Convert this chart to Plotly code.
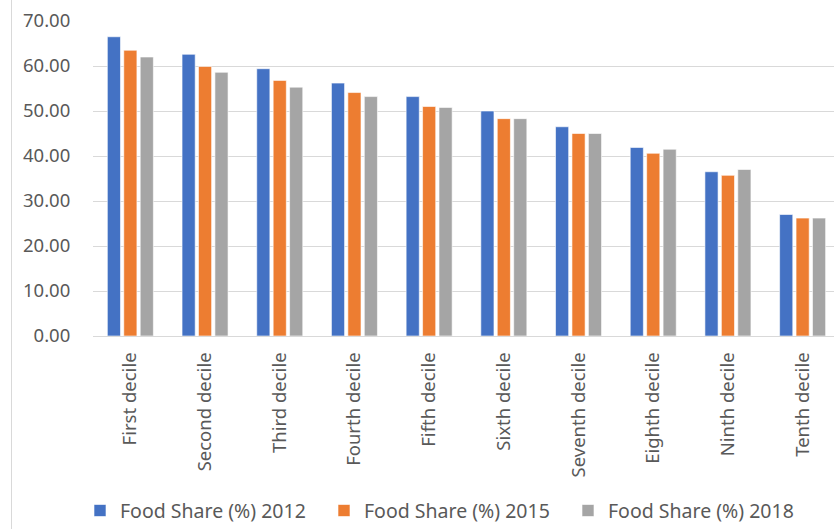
import plotly.graph_objects as go

categories = ["First decile", "Second decile", "Third decile", "Fourth decile", "Fifth decile",
              "Sixth decile", "Seventh decile", "Eighth decile", "Ninth decile", "Tenth decile"]
share_2012 = [66.5, 62.6, 59.4, 56.2, 53.2, 50.0, 46.5, 41.9, 36.5, 27.0]
share_2015 = [63.5, 59.9, 56.8, 54.1, 51.0, 48.3, 45.0, 40.6, 35.7, 26.2]
share_2018 = [62.0, 58.6, 55.3, 53.2, 50.8, 48.3, 45.0, 41.5, 37.0, 26.2]
series_names = ["Food Share (%) 2012", "Food Share (%) 2015", "Food Share (%) 2018"]
colors = ["#4472C4", "#ED7D31", "#A5A5A5"]
y_ticks = [0, 10, 20, 30, 40, 50, 60, 70]

FONT = "Noto Sans"
TXT = "#595959"

fig = go.Figure()
for name, vals, col in zip(series_names, [share_2012, share_2015, share_2018], colors):
    fig.add_trace(go.Bar(
        x=list(range(len(categories))), y=vals, name=name,
        marker=dict(color=col, line=dict(color="white", width=0.6)),
    ))

fig.update_layout(
    width=834, height=529,
    margin=dict(l=93, r=0, t=21, b=193, autoexpand=False),
    paper_bgcolor="white", plot_bgcolor="white",
    barmode="group", bargap=0.34, bargroupgap=0.2,
    font=dict(family=FONT, size=18, color=TXT),
    showlegend=True,
    legend=dict(
        orientation="h", x=-13 / 741, xanchor="left", y=-0.555, yanchor="middle",
        font=dict(family=FONT, size=19.5, color=TXT),
        entrywidth=199, entrywidthmode="pixels", itemwidth=30,
        traceorder="normal",
    ),
    xaxis=dict(
        tickmode="array", tickvals=list(range(len(categories))), ticktext=categories,
        range=[-0.5, 9.42], tickangle=-90,
        showgrid=False, showline=True, linecolor="#D9D9D9", linewidth=1,
        ticks="outside", ticklen=8, tickcolor="rgba(0,0,0,0)",
        tickfont=dict(family=FONT, size=18.5, color=TXT),
        zeroline=False,
    ),
    yaxis=dict(
        range=[0, 70], tickvals=y_ticks, tickformat=".2f",
        showgrid=True, gridcolor="#D9D9D9", gridwidth=1,
        zeroline=False, showline=False,
        ticks="outside", ticklen=18, tickcolor="rgba(0,0,0,0)",
        tickfont=dict(family=FONT, size=18.5, color=TXT),
    ),
    shapes=[dict(type="line", xref="paper", yref="paper",
                 x0=(11.5 - 93) / 741, x1=(11.5 - 93) / 741, y0=-193 / 315, y1=21 / 315 + 1,
                 line=dict(color="#D9D9D9", width=1))],
)

fig.write_html("out.html", config={"displayModeBar": False},
               post_script="document.body.style.margin='0';")
